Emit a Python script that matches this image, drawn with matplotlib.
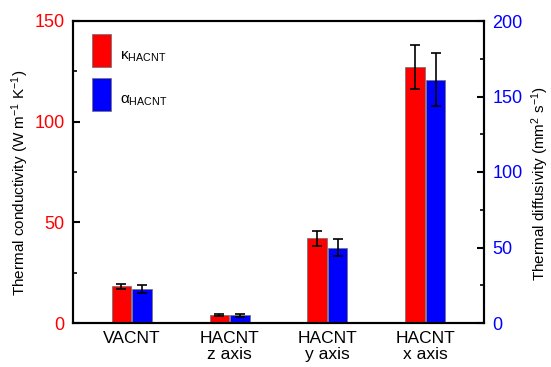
import matplotlib
matplotlib.use("Agg")
import matplotlib.pyplot as plt
import numpy as np
from matplotlib.patches import Rectangle
from matplotlib.ticker import MultipleLocator

plt.rcParams['font.family'] = ['Liberation Sans', 'DejaVu Sans']
plt.rcParams['mathtext.fontset'] = 'custom'
plt.rcParams['mathtext.rm'] = 'Liberation Sans'
plt.rcParams['mathtext.it'] = 'Liberation Sans'

categories = ["VACNT", "HACNT\nz axis", "HACNT\ny axis", "HACNT\nx axis"]
kappa = [18.2, 4.0, 42.0, 127.0]          # W m^-1 K^-1
kappa_err = [1.2, 0.5, 3.8, 11.0]
alpha = [22.5, 5.0, 50.0, 161.0]          # mm^2 s^-1
alpha_err = [2.6, 1.0, 5.5, 17.5]

W, H = 551, 367
fig = plt.figure(figsize=(W/100, H/100), dpi=100)
ax = fig.add_axes([73/W, 1-323/H, (484-73)/W, (323-21)/H])
ax2 = ax.twinx()

x = np.arange(len(categories))
w = 0.2
gap = 0.01
ax.bar(x - w/2 - gap/2, kappa, width=w, color='#ff0000', edgecolor='#777777', linewidth=0.6,
       yerr=kappa_err, error_kw=dict(ecolor='black', elinewidth=1.2, capsize=3.5, capthick=1.2))
ax2.bar(x + w/2 + gap/2, alpha, width=w, color='#0000ff', edgecolor='#777777', linewidth=0.6,
        yerr=alpha_err, error_kw=dict(ecolor='black', elinewidth=1.2, capsize=3.5, capthick=1.2))

ax.set_xlim(-0.6, 3.6)
ax.set_ylim(0, 150)
ax2.set_ylim(0, 200)

ax.set_xticks(x)
ax.set_xticklabels(categories, fontsize=12.5, linespacing=1.12)
ax.tick_params(axis='x', length=0, pad=5.5)

ax.yaxis.set_major_locator(MultipleLocator(50))
ax.yaxis.set_minor_locator(MultipleLocator(25))
ax.tick_params(axis='y', which='major', direction='in', length=5, width=1.5,
               labelcolor='#ff0000', labelsize=13, pad=6)
ax.tick_params(axis='y', which='minor', direction='in', length=3, width=1.2)

ax2.yaxis.set_major_locator(MultipleLocator(50))
ax2.yaxis.set_minor_locator(MultipleLocator(25))
ax2.tick_params(axis='y', which='major', direction='in', length=5, width=1.5,
                labelcolor='#0000ff', labelsize=13, pad=6)
ax2.tick_params(axis='y', which='minor', direction='in', length=3, width=1.2)

for a in (ax, ax2):
    for s in a.spines.values():
        s.set_linewidth(1.5)

fig.text(20/W, 1-183/H,
         "Thermal conductivity (W m$^{\\mathregular{-1}}$ K$^{\\mathregular{-1}}$)",
         rotation=90, ha='center', va='center', fontsize=11)
fig.text(540/W, 1-184/H,
         "Thermal diffusivity (mm$^{\\mathregular{2}}$ s$^{\\mathregular{-1}}$)",
         rotation=90, ha='center', va='center', fontsize=11)

# legend drawn as tall swatches with subscripted labels
for i, (col, sym) in enumerate([('#ff0000', 'κ'), ('#0000ff', 'α')]):
    y0 = 1 - (67 - 21) / 302 - i * (44 / 302)
    ax.add_patch(Rectangle((19/411, y0), 19/411, 33/302, transform=ax.transAxes,
                           facecolor=col, edgecolor='#777777', linewidth=0.6, clip_on=False))
    ax.text(47/411, y0 + 10/302, sym + "$_{\\mathregular{HACNT}}$", transform=ax.transAxes,
            fontsize=11, va='center', ha='left')

fig.savefig("out.png", dpi=100)
